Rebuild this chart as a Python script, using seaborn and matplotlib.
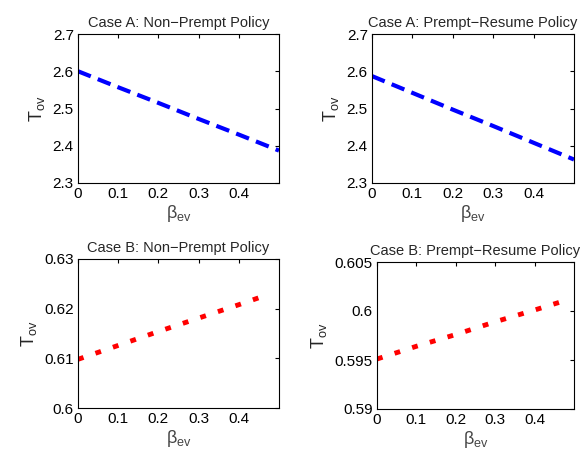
import matplotlib
matplotlib.use("Agg")
import matplotlib.pyplot as plt
import seaborn as sns
import pandas as pd
from matplotlib.ticker import FormatStrFormatter, MultipleLocator

sns.set_theme(style="white")
plt.rcParams['font.family'] = ['Liberation Sans', 'DejaVu Sans']
plt.rcParams['mathtext.default'] = 'regular'

# Case A data
beta_a = [0.0, 0.1, 0.2, 0.3, 0.4, 0.5]
tov_a_nonprempt = [2.600, 2.557, 2.515, 2.472, 2.430, 2.387]
tov_a_resume = [2.587, 2.542, 2.497, 2.453, 2.408, 2.363]

# Case B data
beta_b1 = [0.0, 0.1, 0.2, 0.3, 0.4, 0.475]
tov_b_nonprempt = [0.6098, 0.6126, 0.6154, 0.6181, 0.6208, 0.6229]
beta_b2 = [0.0, 0.1, 0.2, 0.3, 0.4, 0.48]
tov_b_resume = [0.5951, 0.5964, 0.5976, 0.5989, 0.6001, 0.6011]

titles = ["Case A: Non\u2212Prempt Policy", "Case A: Prempt\u2212Resume Policy",
          "Case B: Non\u2212Prempt Policy", "Case B: Prempt\u2212Resume Policy"]

fig = plt.figure(figsize=(5.84, 4.51), dpi=100)
W, H = 584, 451
def ax_at(l, t, r, b):
    return fig.add_axes([l / W, 1 - b / H, (r - l) / W, (b - t) / H])

axes = [ax_at(78, 34, 279, 183), ax_at(372, 34, 574, 183),
        ax_at(78, 259, 279, 408), ax_at(377, 262, 574, 409)]

specs = [
    (beta_a, tov_a_nonprempt, "blue", "dashed", (2.3, 2.7), 0.1, "%.1f"),
    (beta_a, tov_a_resume, "blue", "dashed", (2.3, 2.7), 0.1, "%.1f"),
    (beta_b1, tov_b_nonprempt, "red", "dotted", (0.6, 0.63), 0.01, "%g"),
    (beta_b2, tov_b_resume, "red", "dotted", (0.59, 0.605), 0.005, "%g"),
]

for ax, title, (x, y, col, ls, ylim, ystep, fmt) in zip(axes, titles, specs):
    df = pd.DataFrame({"beta": x, "tov": y})
    lw = 3 if ls == "dashed" else 3.5
    sns.lineplot(data=df, x="beta", y="tov", ax=ax, color=col, linewidth=lw)
    line = ax.get_lines()[0]
    if ls == "dashed":
        line.set_dashes((3.3, 1.8))
    else:
        line.set_dashes((1.2, 2.6))
        line.set_dash_capstyle('butt')
    ax.set_xlim(0, 0.5)
    ax.set_ylim(*ylim)
    ax.set_xticks([0, 0.1, 0.2, 0.3, 0.4])
    ax.set_xticklabels(["0", "0.1", "0.2", "0.3", "0.4"])
    ax.yaxis.set_major_locator(MultipleLocator(ystep))
    ax.yaxis.set_major_formatter(FormatStrFormatter(fmt))
    ax.tick_params(direction='in', length=3, width=0.8, top=True, right=True,
                   labelsize=11, colors='black', pad=3)
    for s in ax.spines.values():
        s.set_visible(True)
        s.set_color('black')
        s.set_linewidth(0.8)
    ax.set_title(title, fontsize=10.5, pad=5)
    ax.set_xlabel(r'$\beta_{ev}$', fontsize=13, labelpad=1, color='#444444')
    ax.set_ylabel(r'$T_{ov}$', fontsize=13, labelpad=4)

fig.savefig("out.png", dpi=100)
